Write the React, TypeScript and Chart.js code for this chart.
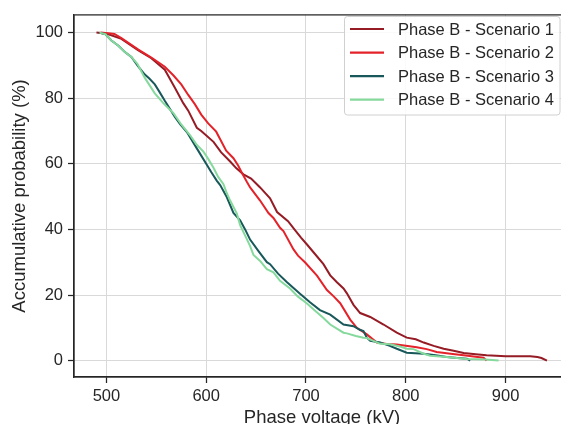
import React, { useEffect, useRef } from "react";
import { Chart, registerables } from "chart.js";

Chart.register(...registerables);

const seriesLabels = [
  "Phase B - Scenario 1",
  "Phase B - Scenario 2",
  "Phase B - Scenario 3",
  "Phase B - Scenario 4",
];
const seriesColors = ["#951b25", "#e3222a", "#18585a", "#86d99c"];

const xTickValues = [500, 600, 700, 800, 900];
const yTickValues = [0, 20, 40, 60, 80, 100];

const s1Voltage = [490, 496, 502, 515, 532, 545, 558.5, 568.6, 577, 582, 590.6, 595, 607.3, 615, 624, 630, 637.3, 645, 654, 664, 671, 682, 689, 695, 701, 709, 717.5, 724.3, 731, 737.6, 741, 747.6, 754.3, 764.4, 777.7, 791, 801, 810, 818, 828, 838, 848, 858, 870, 881, 900, 924.8, 932, 936, 941.5];
const s1Prob = [100, 99.8, 99.5, 98.1, 94.6, 92.2, 88.7, 83.2, 78.5, 76.2, 71, 70, 66.7, 63.5, 60.7, 58.7, 56.8, 55.5, 52.8, 49.5, 45.3, 42.5, 39.8, 37.5, 35.4, 32.5, 29.4, 26, 23.9, 22, 20.5, 17, 14.5, 13.3, 11, 8.5, 7, 6.5, 5.5, 4.5, 3.6, 3, 2.3, 1.9, 1.6, 1.3, 1.3, 1.1, 0.8, 0];

const s2Voltage = [494, 502, 508, 515, 532, 545, 558.5, 567, 575, 582, 588.6, 595, 602, 610, 614, 620, 627.3, 632, 635.7, 640.7, 644, 654, 662.4, 667.4, 674, 677.4, 687.5, 692, 699.2, 711, 721, 728, 734.3, 744.3, 751, 761, 771, 781, 791, 811, 821, 831, 845, 858, 870, 878, 881];
const s2Prob = [100, 99.8, 99.6, 98.3, 94.8, 92.4, 89.6, 87, 84.2, 81, 78.2, 75, 72.3, 69.8, 67.5, 64, 61.7, 59.5, 57.3, 54.5, 52.8, 48.8, 45, 43.5, 40.5, 39.5, 33.9, 32, 29.9, 25.9, 21.5, 19.5, 17.5, 12.5, 10, 8, 5.5, 5.1, 4.9, 4.1, 3.5, 2.6, 2.1, 1.6, 1.2, 0.9, 0];

const s3Voltage = [493, 499, 505, 512, 518.5, 525, 531.8, 538.5, 543, 548.5, 553, 558.5, 563.9, 568.6, 574, 580.6, 585, 590.6, 595, 600.6, 605, 610.7, 614, 620.7, 627.3, 634, 639, 644, 652.4, 660.8, 664, 672, 681, 694, 704, 714, 724.3, 737.6, 747.6, 754, 757.6, 761, 764.4, 774.4, 784, 791, 801, 818, 830, 841, 852, 861.3, 864.6];
const s3Prob = [100, 99.5, 97.6, 96, 94.1, 92.6, 89.7, 87.2, 86, 84.2, 82, 79.2, 76.6, 74.3, 72, 69.7, 67.5, 64.7, 62.5, 59.7, 57.5, 54.8, 53.5, 49.8, 45, 42.8, 40, 36.9, 33.4, 30, 29.4, 26.5, 23.9, 20.4, 17.8, 15.4, 14, 11, 10.5, 9.4, 9, 7, 6, 5.5, 4.5, 3.6, 2.4, 2.1, 1.6, 1.1, 0.8, 0.6, 0];

const s4Voltage = [493, 499, 505, 512, 518.5, 525, 531, 538.5, 548.5, 557, 567, 575, 583.9, 590, 597.2, 602, 607.3, 612, 617.3, 620, 624, 630.7, 634, 640, 644, 647.4, 654, 660.8, 667.4, 674, 684, 692, 701, 710, 717.5, 724.3, 737.6, 741, 750, 757.6, 761, 774.4, 784.4, 795, 801, 807.8, 818, 824.5, 841, 861, 880, 893];
const s4Prob = [100, 99.5, 97.6, 96, 94.1, 92.6, 90.5, 86.2, 81.5, 78.5, 75.5, 72, 68.7, 66, 63.7, 61.5, 58.8, 56, 53.8, 51.5, 48.8, 44.8, 41.3, 37.5, 34.9, 32.2, 30.4, 27.9, 26.9, 24.3, 22, 19.5, 17.4, 15, 13, 11, 8.5, 8.3, 7.5, 7, 6.9, 5.1, 5, 4.2, 3.6, 3.5, 2.1, 1.5, 1.1, 0.5, 0.3, 0];

const voltages = [s1Voltage, s2Voltage, s3Voltage, s4Voltage];
const probs = [s1Prob, s2Prob, s3Prob, s4Prob];

const FONT = "'Liberation Sans', Arial, sans-serif";
const TEXT = "#262626";

const framePlugin = {
  id: "frameAndLegend",
  afterDraw(chart: any) {
    const { ctx, chartArea } = chart;
    ctx.save();
    ctx.strokeStyle = TEXT;
    ctx.lineWidth = 1.25;
    ctx.strokeRect(chartArea.left, chartArea.top, chartArea.right - chartArea.left, chartArea.bottom - chartArea.top);
    const bx = 344.5, by = 16.5, bw = 215.5, bh = 98.5;
    ctx.beginPath();
    if (ctx.roundRect) ctx.roundRect(bx, by, bw, bh, 3);
    else ctx.rect(bx, by, bw, bh);
    ctx.fillStyle = "rgba(255,255,255,0.85)";
    ctx.fill();
    ctx.strokeStyle = "#d0d0d0";
    ctx.lineWidth = 1;
    ctx.stroke();
    ctx.font = `16.5px ${FONT}`;
    ctx.textBaseline = "middle";
    ctx.textAlign = "left";
    seriesLabels.forEach((label, i) => {
      const y = 29 + i * 23.55;
      ctx.strokeStyle = seriesColors[i];
      ctx.lineWidth = 2.2;
      ctx.beginPath();
      ctx.moveTo(350, y);
      ctx.lineTo(384, y);
      ctx.stroke();
      ctx.fillStyle = TEXT;
      ctx.fillText(label, 398, y + 1);
    });
    ctx.restore();
  },
};

export default function App() {
  const ref = useRef<HTMLCanvasElement | null>(null);
  useEffect(() => {
    if (!ref.current) return;
    const datasets = seriesLabels.map((label, i) => ({
      label,
      data: voltages[i].map((v, j) => ({ x: v, y: probs[i][j] })),
      borderColor: seriesColors[i],
      backgroundColor: seriesColors[i],
      borderWidth: 2,
      pointRadius: 0,
      tension: 0,
      fill: false,
      order: 4 - i,
    }));
    const chart = new Chart(ref.current, {
      type: "line",
      data: { datasets },
      plugins: [framePlugin],
      options: {
        animation: false,
        responsive: false,
        layout: { padding: { top: 7.5, right: 10, left: 0, bottom: 0 } },
        plugins: { legend: { display: false }, tooltip: { enabled: false } },
        scales: {
          x: {
            type: "linear",
            min: 467.5,
            max: 964.6,
            afterFit: (s: any) => {
              s.height = 47;
            },
            afterBuildTicks: (s: any) => {
              s.ticks = xTickValues.map((v) => ({ value: v }));
            },
            grid: {
              color: "#d9d9d9",
              lineWidth: 1,
              tickColor: TEXT,
              tickLength: 6,
              tickWidth: 1.25,
            },
            border: { display: true, color: TEXT, width: 1.25 },
            ticks: {
              color: TEXT,
              font: { family: FONT, size: 16.5 },
              padding: 4,
              maxRotation: 0,
            },
            title: {
              display: true,
              text: "Phase voltage (kV)",
              color: TEXT,
              font: { family: FONT, size: 18.5, lineHeight: 1 },
              padding: { top: 0, bottom: -2.75 },
            },
          },
          y: {
            type: "linear",
            min: -5,
            max: 105.4,
            afterFit: (s: any) => {
              s.width = 74;
            },
            afterBuildTicks: (s: any) => {
              s.ticks = yTickValues.map((v) => ({ value: v }));
            },
            grid: {
              color: "#d9d9d9",
              lineWidth: 1,
              tickColor: TEXT,
              tickLength: 6,
              tickWidth: 1.25,
            },
            border: { display: true, color: TEXT, width: 1.25 },
            ticks: {
              color: TEXT,
              font: { family: FONT, size: 16.5 },
              padding: 5,
            },
            title: {
              display: true,
              text: "Accumulative probability (%)",
              color: TEXT,
              font: { family: FONT, size: 18.5, lineHeight: 1 },
              padding: { top: 11, bottom: 0 },
            },
          },
        },
      },
    } as any);
    return () => chart.destroy();
  }, []);
  return (
    <div style={{ position: "fixed", left: 0, top: 0, width: 580, height: 424, background: "#fff" }}>
      <canvas ref={ref} width={580} height={424} style={{ display: "block" }} />
    </div>
  );
}
